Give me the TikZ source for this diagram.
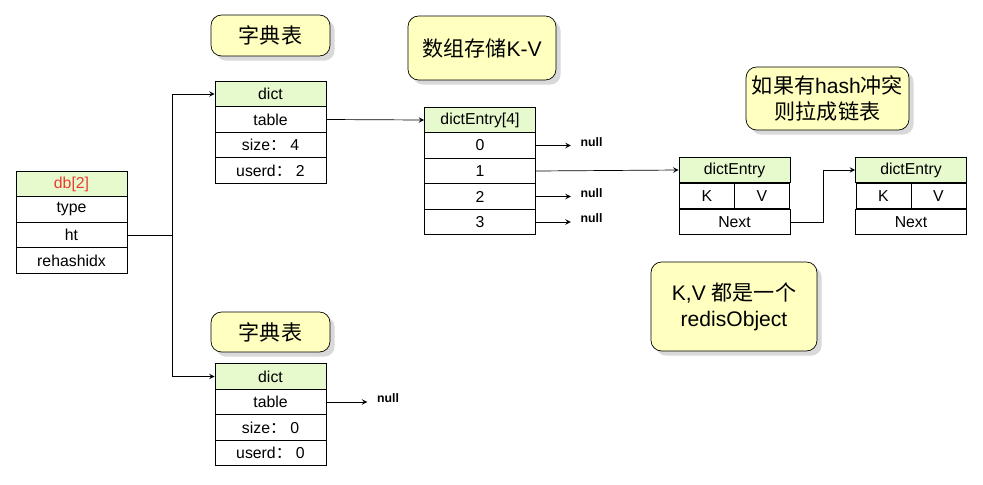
\documentclass[tikz,border=0pt]{standalone}
\usepackage{fontspec}
\setmainfont{Liberation Sans}
\newfontfamily\cjk{Noto Sans CJK SC}
\usetikzlibrary{shadows}
\definecolor{cellgreen}{RGB}{230,250,205}
\definecolor{noteyellow}{RGB}{255,255,192}
\definecolor{dbred}{RGB}{235,60,50}
\tikzset{
  cell/.style={draw, minimum width=2.22cm, minimum height=0.51cm, inner sep=0pt, font=\small},
  head/.style={cell, fill=cellgreen},
  note/.style={draw, fill=noteyellow, rounded corners=6pt, drop shadow={opacity=0.3}, align=center, font=\fontsize{12}{15}\selectfont},
  link/.style={->, >=stealth},
  nulltxt/.style={font=\scriptsize\bfseries, anchor=west}
}
\begin{document}
\begin{tikzpicture}[x=0.02cm, y=-0.02cm]
    \useasboundingbox (0,0) rectangle (983,484);
    % db
    \node[head, text=dbred] (db) at (71.5,184) {db[2]};
    \node[cell] (dbtype) at (71.5,209.5) {type};
    \node[cell] (dbht) at (71.5,235) {ht};
    \node[cell] (dbre) at (71.5,260.5) {rehashidx};

    % dict (upper)
    \node[head] (dict1) at (270.5,94) {dict};
    \node[cell] (tab1) at (270.5,119.5) {table};
    \node[cell] (size1) at (270.5,145) {size{\cjk ：} 4};
    \node[cell] (used1) at (270.5,170.5) {userd{\cjk ：} 2};

    % dict (lower)
    \node[head] (dict2) at (270.5,376.5) {dict};
    \node[cell] (tab2) at (270.5,402) {table};
    \node[cell] (size2) at (270.5,427.5) {size{\cjk ：} 0};
    \node[cell] (used2) at (270.5,453) {userd{\cjk ：} 0};

    % dictEntry array
    \node[head] (arr) at (480,120) {dictEntry[4]};
    \foreach \i/\y in {0/145.5,1/171,2/196.5,3/222} {
        \node[cell] (e\i) at (480,\y) {\i};
    }

    % chained entries
    \node[head] (ent1) at (734.5,170) {dictEntry};
    \node[cell, minimum width=1.11cm] (k1) at (707,196) {K};
    \node[cell, minimum width=1.11cm] (v1) at (762,196) {V};
    \node[cell] (next1) at (734.5,222) {Next};
    \node[head] (ent2) at (911,170) {dictEntry};
    \node[cell, minimum width=1.1cm] (k2) at (883.5,196) {K};
    \node[cell, minimum width=1.1cm] (v2) at (938.5,196) {V};
    \node[cell] (next2) at (911,222) {Next};

    % notes
    \node[note, minimum width=2.38cm, minimum height=0.82cm] (n1) at (270.5,35.5) {\cjk 字典表};
    \node[note, minimum width=2.38cm, minimum height=0.8cm] (n2) at (270.5,332) {\cjk 字典表};
    \node[note, minimum width=2.96cm, minimum height=1.28cm] (n3) at (482,48) {{\cjk 数组存储}K-V};
    \node[note, minimum width=2.86cm, minimum height=1.26cm] (n4) at (827.5,98.5) {\cjk 如果有{\rmfamily hash}冲突\\\cjk 则拉成链表};
    \node[note, minimum width=3.32cm, minimum height=1.78cm] (n5) at (734,306.5) {K,V {\cjk 都是一个}\\redisObject};

    % connectors
    \coordinate (fork) at (172,235);
    \draw (dbht.east) -- (fork);
    \draw[link] (fork) |- (dict1.west);
    \draw[link] (fork) |- (dict2.west);
    \draw[link] (tab1.east) -- (arr.west);
    \draw[link] (e1.east) -- (ent1.west);
    \draw[link] (next1.east) -- ++(33,0) |- (ent2.west);
    \foreach \i in {0,2,3} {
        \draw[link] (e\i.east) -- ++(35,0) node[nulltxt, xshift=2pt, yshift=2pt] {null};
    }
    \draw[link] (tab2.east) -- ++(41,0) node[nulltxt, xshift=2pt, yshift=2pt] {null};
\end{tikzpicture}
\end{document}
